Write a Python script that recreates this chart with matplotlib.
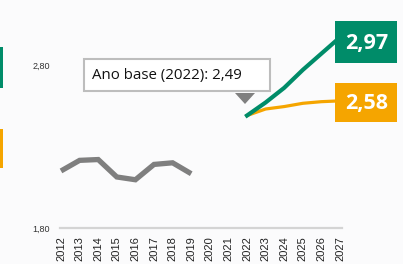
import matplotlib
matplotlib.use('Agg')
import matplotlib.pyplot as plt
from matplotlib.patches import Rectangle, Polygon

# historical series
hist_years = [2012, 2013, 2014, 2015, 2016, 2017, 2018, 2019]
hist_vals = [2.15, 2.215, 2.22, 2.113, 2.096, 2.19, 2.20, 2.133]

# projections from base year
proj_years = [2022, 2023, 2024, 2025, 2026, 2027]
high_vals = [2.49, 2.57, 2.66, 2.77, 2.87, 2.97]
low_vals = [2.49, 2.53, 2.545, 2.565, 2.575, 2.58]

all_years = list(range(2012, 2028))
ytick_vals = [1.80, 2.80]
ytick_labels = ['1,80', '2,80']
base_label = 'Ano base (2022): 2,49'
high_label = '2,97'
low_label = '2,58'

green = '#008c69'
orange = '#f5a500'
gray = '#7f7f7f'
W, H = 403, 264

fig = plt.figure(figsize=(W / 100, H / 100), dpi=100)
fig.patch.set_facecolor('#fbfbfc')
ax = fig.add_axes([61 / W, (H - 228) / H, (340 - 61) / W, 163 / H])
ax.set_facecolor('none')
ax.set_xlim(2012, 2027)
ax.set_ylim(1.80, 2.80)
for s in ax.spines.values():
    s.set_visible(False)

ax.plot([2011.95, 2027.1], [1.80, 1.80], color='#d4d4d4', lw=1.6,
        clip_on=False, zorder=1)

ax.plot(hist_years, hist_vals, color=gray, lw=3.8, solid_capstyle='butt',
        solid_joinstyle='miter', clip_on=False, zorder=3)
ax.plot(proj_years, low_vals, color=orange, lw=2.3, clip_on=False, zorder=3)
ax.plot(proj_years, high_vals, color=green, lw=3.0, clip_on=False, zorder=4)

ax.set_yticks(ytick_vals)
ax.set_yticklabels(ytick_labels, fontsize=6.5, color='#333333',
                   family='Liberation Sans')
ax.set_xticks(all_years)
ax.set_xticklabels([str(y) for y in all_years], rotation=90, fontsize=8,
                   family='Liberation Sans', color='#222222')
ax.tick_params(axis='y', length=0, pad=8)
ax.tick_params(axis='x', length=0, pad=6)


def fig_rect(x0, y0, x1, y1, color, ec='none', lw=0):
    fig.add_artist(Rectangle((x0 / W, 1 - y1 / H), (x1 - x0) / W, (y1 - y0) / H,
                             transform=fig.transFigure, facecolor=color,
                             edgecolor=ec, linewidth=lw))


# clipped legend markers at the left edge
fig_rect(0, 47, 3, 88, green)
fig_rect(0, 129, 3, 168, orange)

# end value boxes
fig_rect(335, 21, 397, 63, green)
fig.text(367 / W, 1 - 44 / H, high_label, color='white', fontsize=15.5,
         fontweight='bold', ha='center', va='center', family='Open Sans')
fig_rect(335, 83, 397, 122, orange)
fig.text(367 / W, 1 - 104 / H, low_label, color='white', fontsize=15.5,
         fontweight='bold', ha='center', va='center', family='Open Sans')

# base year callout
fig_rect(84, 59, 270, 91, 'white', ec='#bdbdbd', lw=1.5)
fig.text(92 / W, 1 - 75.5 / H, base_label, color='#111111', fontsize=10.8,
         ha='left', va='center', family='Open Sans')
fig.add_artist(Polygon([(235 / W, 1 - 93 / H), (255 / W, 1 - 93 / H),
                        (245 / W, 1 - 104 / H)], closed=True,
                       transform=fig.transFigure, facecolor='#808080',
                       edgecolor='none'))

fig.savefig('out.png', dpi=100, facecolor=fig.get_facecolor())
